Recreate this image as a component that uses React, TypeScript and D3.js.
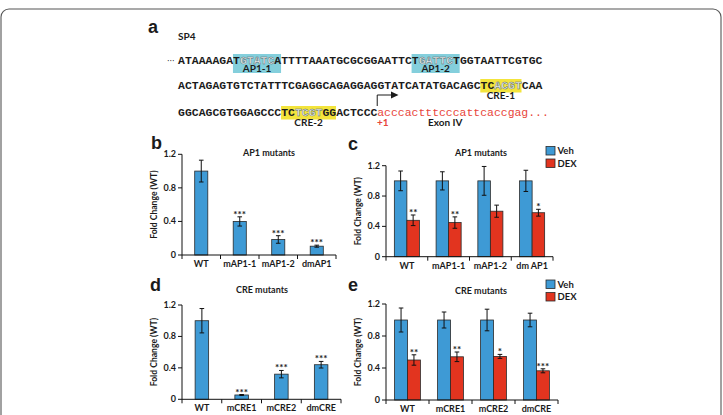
import * as d3 from "d3";

// ---- promoter sequence -------------------------------------------------
const seqRows = [
  "ATAAAAGATGTATCATTTTAAATGCGCGGAATTCTGATTCTGGTAATTCGTGC",
  "ACTAGAGTGTCTATTTCGAGGCAGAGGAGGTATCATATGACAGCTCACGTCAA",
  "GGCAGCGTGGAGCCCTCTCGTGGACTCCC",
];
const exonSeq = "acccactttcccattcaccgag...";

const siteNames = ["AP1-1", "AP1-2", "CRE-1", "CRE-2"];
const siteRows = [0, 0, 1, 2];
const siteStarts = [8, 34, 44, 15];
const siteLengths = [7, 7, 6, 8];
const siteMutStarts = [9, 35, 46, 17];
const siteMutLengths = [5, 5, 4, 4];

// ---- luciferase data ---------------------------------------------------
const yTicks = [0, 0.4, 0.8, 1.2];
const seriesNames = ["Veh", "DEX"];

const ap1Labels = ["WT", "mAP1-1", "mAP1-2", "dmAP1"];
const ap1Fold = [1.0, 0.4, 0.185, 0.105];
const ap1FoldErr = [0.13, 0.055, 0.045, 0.012];
const ap1FoldSig = ["", "***", "***", "***"];

const ap1DexLabels = ["WT", "mAP1-1", "mAP1-2", "dm AP1"];
const ap1Veh = [1.0, 1.0, 1.0, 1.0];
const ap1VehErr = [0.13, 0.12, 0.19, 0.14];
const ap1Dex = [0.48, 0.45, 0.6, 0.58];
const ap1DexErr = [0.07, 0.075, 0.08, 0.045];
const ap1DexSig = ["**", "**", "", "*"];

const creLabels = ["WT", "mCRE1", "mCRE2", "dmCRE"];
const creFold = [1.0, 0.055, 0.32, 0.44];
const creFoldErr = [0.155, 0.006, 0.047, 0.042];
const creFoldSig = ["", "***", "***", "***"];

const creVeh = [1.0, 1.0, 1.0, 1.0];
const creVehErr = [0.15, 0.1, 0.135, 0.085];
const creDex = [0.5, 0.54, 0.545, 0.365];
const creDexErr = [0.065, 0.06, 0.025, 0.025];
const creDexSig = ["**", "**", "*", "***"];

const BLUE = "#3e9ad5";
const RED = "#e2341f";
const INK = "#1b1b1b";
const CYAN = "#84cfdc";
const YELLOW = "#f3e43c";
const EXON_RED = "#e8453b";
const LABEL_FONT = "Lato, 'Open Sans', sans-serif";
const LETTER_FONT = "'Liberation Sans', Arial, sans-serif";
const SEQ_FONT = "'Liberation Mono', 'DejaVu Sans Mono', monospace";

const seqSize = 11.45;
const charW = seqSize * 0.6;
const seqX = 178;
const rowBaselines = [64, 89, 116];

function Sequence() {
  const startX = seqX + seqRows[2].length * charW;
  return (
    <g>
      <text x={148} y={33} fontFamily={LETTER_FONT} fontWeight="bold" fontSize={18} fill={INK}>a</text>
      <text x={178} y={39.5} fontFamily={LABEL_FONT} fontWeight="bold" fontSize={10} fill={INK}>SP4</text>
      <text x={167} y={64} fontFamily="'DejaVu Sans', sans-serif" fontSize={8} fill={INK}>···</text>

      {siteNames.map((name, i) => {
        const x = seqX + siteStarts[i] * charW;
        const w = siteLengths[i] * charW;
        const base = rowBaselines[siteRows[i]];
        const ap1 = name.startsWith("AP1");
        return (
          <g key={name}>
            <rect x={x} y={base - 10} width={w} height={ap1 ? 19 : 13.5} fill={ap1 ? CYAN : YELLOW} />
            <text x={x + w / 2} y={base + (ap1 ? 7.8 : 9.5)} textAnchor="middle"
              fontFamily={LABEL_FONT} fontWeight="bold" fontSize={10} fill={INK}>{name}</text>
          </g>
        );
      })}

      {seqRows.map((row, r) => (
        <text key={r} x={seqX} y={rowBaselines[r]} fontFamily={SEQ_FONT} fontWeight="bold"
          fontSize={seqSize} fill={INK} style={{ whiteSpace: "pre" }}>
          {row.split("").map((ch, k) => {
            const site = siteNames.findIndex(
              (_, i) => siteRows[i] === r && k >= siteMutStarts[i] && k < siteMutStarts[i] + siteMutLengths[i]
            );
            return site >= 0 ? (
              <tspan key={k} fill="#eef4f4" stroke="#56666a" strokeWidth={0.45}>{ch}</tspan>
            ) : (
              <tspan key={k}>{ch}</tspan>
            );
          })}
        </text>
      ))}

      {/* transcription start (+1) and exon IV */}
      <text x={startX} y={rowBaselines[2]} fontFamily={SEQ_FONT}
        fontSize={seqSize} fill={EXON_RED}>{exonSeq}</text>
      <path d={`M${startX},${rowBaselines[2] - 10} V95 H392`} fill="none" stroke={INK} strokeWidth={1} />
      <path d="M391,91.5 L398.5,95 L391,98.5 Z" fill={INK} />
      <text x={377} y={126} fontFamily={LABEL_FONT} fontWeight="bold" fontSize={10} fill={EXON_RED}>+1</text>
      <text x={428} y={126} fontFamily={LABEL_FONT} fontWeight="bold" fontSize={10} fill={INK}>Exon IV</text>
    </g>
  );
}

type PanelProps = {
  letter: string;
  letterX: number;
  letterY: number;
  title: string;
  titleX: number;
  titleY: number;
  left: number;
  right: number;
  zeroY: number;
  topY: number;
  categories: string[];
  values: number[][];
  errors: number[][];
  marks: string[];
  legendY?: number;
};

function BarPanel(p: PanelProps) {
  const grouped = p.values.length > 1;
  const y = d3.scaleLinear().domain([0, 1.2]).range([p.zeroY, p.topY]);
  const x = d3
    .scaleBand<string>()
    .domain(p.categories)
    .range([p.left, p.right])
    .paddingInner(grouped ? 0.4 : 0.66)
    .paddingOuter(grouped ? 0.2 : 0.33);
  const inner = d3
    .scaleBand<number>()
    .domain(d3.range(p.values.length))
    .range([0, x.bandwidth()]);
  const step = x.step();
  const bounds = d3.range(p.categories.length + 1).map((i) => p.left + i * step);
  const colors = grouped ? [BLUE, RED] : [BLUE];
  const last = p.values.length - 1;

  return (
    <g fontFamily={LABEL_FONT} fontWeight="bold" fill={INK}>
      <text x={p.letterX} y={p.letterY} fontFamily={LETTER_FONT} fontSize={18}>{p.letter}</text>
      <text x={p.titleX} y={p.titleY} textAnchor="middle" fontSize={9}>{p.title}</text>

      {/* bars with error bars and significance marks */}
      {p.values.map((vals, s) =>
        vals.map((v, i) => {
          const bx = (x(p.categories[i]) ?? 0) + (inner(s) ?? 0);
          const bw = inner.bandwidth();
          const cx = bx + bw / 2;
          const hi = y(v + p.errors[s][i]);
          const lo = y(v - p.errors[s][i]);
          return (
            <g key={`${s}-${i}`}>
              <rect x={bx} y={y(v)} width={bw} height={p.zeroY - y(v)} fill={colors[s]}
                stroke="#2a2a2a" strokeWidth={0.8} />
              <path d={`M${cx},${hi} V${lo} M${cx - 2.3},${hi} H${cx + 2.3} M${cx - 2.3},${lo} H${cx + 2.3}`}
                stroke="#111" strokeWidth={1} fill="none" />
              {s === last && p.marks[i] && (
                <text x={cx} y={hi + 1} textAnchor="middle" fontSize={10}>{p.marks[i]}</text>
              )}
            </g>
          );
        })
      )}

      {/* y axis */}
      <line x1={p.left} x2={p.left} y1={p.zeroY} y2={p.topY} stroke="#111" strokeWidth={1} />
      {yTicks.map((t) => (
        <g key={t}>
          <line x1={p.left - 4} x2={p.left} y1={y(t)} y2={y(t)} stroke="#111" strokeWidth={1} />
          <text x={p.left - 6} y={y(t) + 3} textAnchor="end" fontSize={9}>{d3.format("~g")(t)}</text>
        </g>
      ))}
      <text transform={`translate(${p.left - 25},${(p.zeroY + p.topY) / 2}) rotate(-90)`}
        textAnchor="middle" fontSize={8.6}>Fold Change (WT)</text>

      {/* x axis with category separators */}
      <line x1={p.left} x2={p.right} y1={p.zeroY} y2={p.zeroY} stroke="#111" strokeWidth={1} />
      {bounds.map((bx, i) => (
        <line key={i} x1={bx} x2={bx} y1={p.zeroY} y2={p.zeroY + 4} stroke="#111" strokeWidth={1} />
      ))}
      {p.categories.map((c) => (
        <text key={c} x={(x(c) ?? 0) + x.bandwidth() / 2} y={p.zeroY + 12} textAnchor="middle" fontSize={9}>{c}</text>
      ))}

      {/* legend */}
      {grouped && p.legendY !== undefined &&
        seriesNames.map((n, s) => (
          <g key={n} transform={`translate(546,${p.legendY + s * 12.5})`}>
            <rect x={0} y={0} width={9} height={8.5} fill={colors[s]} stroke="#2a2a2a" strokeWidth={0.8} />
            <text x={11.5} y={7.8} fontSize={9.5}>{n}</text>
          </g>
        ))}
    </g>
  );
}

export default function App() {
  return (
    <svg width={723} height={415} style={{ position: "absolute", left: 0, top: 0, background: "#fff" }}>
      <rect x={1} y={9} width={720} height={440} rx={8} fill="#fff" stroke="#555" strokeWidth={1.1} />
      <Sequence />
      <BarPanel letter="b" letterX={151} letterY={148.5} title="AP1 mutants" titleX={269} titleY={155.5}
        left={182} right={336} zeroY={255} topY={154.3}
        categories={ap1Labels} values={[ap1Fold]} errors={[ap1FoldErr]} marks={ap1FoldSig} />
      <BarPanel letter="c" letterX={348} letterY={150} title="AP1 mutants" titleX={481} titleY={156}
        left={386} right={553} zeroY={256.7} topY={165.7}
        categories={ap1DexLabels} values={[ap1Veh, ap1Dex]} errors={[ap1VehErr, ap1DexErr]}
        marks={ap1DexSig} legendY={146.5} />
      <BarPanel letter="d" letterX={150} letterY={290.5} title="CRE mutants" titleX={262} titleY={292.5}
        left={182} right={341} zeroY={399.3} topY={305}
        categories={creLabels} values={[creFold]} errors={[creFoldErr]} marks={creFoldSig} />
      <BarPanel letter="e" letterX={348} letterY={290.5} title="CRE mutants" titleX={481} titleY={293.5}
        left={386} right={558} zeroY={400} topY={304}
        categories={creLabels} values={[creVeh, creDex]} errors={[creVehErr, creDexErr]}
        marks={creDexSig} legendY={280} />
    </svg>
  );
}
